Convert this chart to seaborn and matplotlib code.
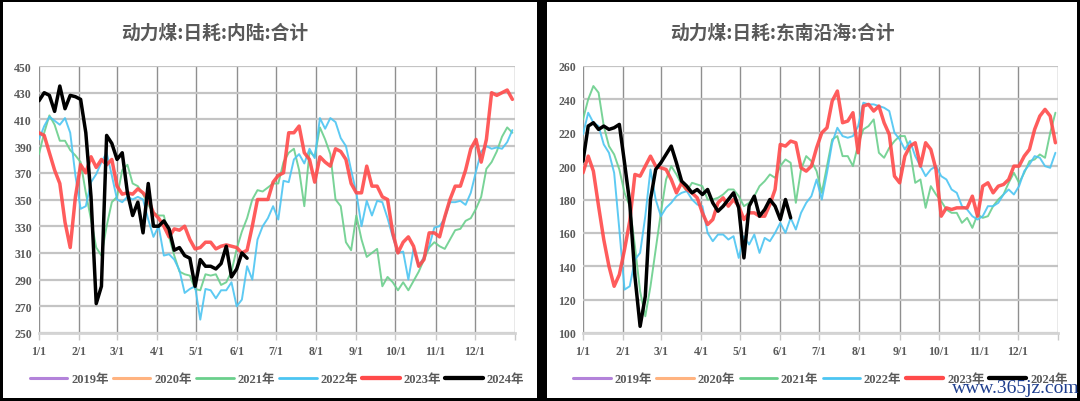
import numpy as np
import pandas as pd
import matplotlib
matplotlib.use("Agg")
import matplotlib.pyplot as plt
from matplotlib.lines import Line2D
from matplotlib.patches import Rectangle
import seaborn as sns

# ---------------- data (sampled every 4 days from 1/1) ----------------
STEP = 4
years = ["2019年", "2020年", "2021年", "2022年", "2023年", "2024年"]
month_labels = ["1/1", "2/1", "3/1", "4/1", "5/1", "6/1", "7/1", "8/1", "9/1", "10/1", "11/1", "12/1"]
month_starts = [0, 31, 60, 91, 121, 152, 182, 213, 244, 274, 305, 335]

inland_2021 = [384, 400, 413, 406, 394, 394, 387, 383, 378, 355,
               335, 314, 308, 330, 348, 352, 372, 376, 362, 360,
               354, 346, 340, 338, 338, 322, 308, 296, 294, 293,
               283, 282, 294, 293, 294, 286, 288, 296, 313, 326,
               336, 350, 357, 356, 359, 362, 362, 378, 385, 388,
               372, 345, 386, 382, 404, 395, 384, 350, 345, 318,
               312, 338, 320, 307, 310, 313, 285, 292, 288, 282,
               288, 282, 289, 296, 305, 314, 318, 315, 313, 320,
               327, 328, 334, 336, 343, 352, 373, 378, 386, 397,
               404, 400]
inland_2022 = [395, 405, 412, 409, 406, 411, 400, 368, 343, 345,
               363, 369, 378, 385, 368, 350, 348, 352, 350, 352,
               350, 335, 322, 330, 308, 309, 305, 297, 280, 283,
               285, 260, 283, 282, 276, 282, 282, 288, 270, 275,
               300, 290, 320, 330, 336, 345, 335, 364, 363, 380,
               384, 377, 388, 381, 411, 403, 411, 408, 396, 390,
               372, 355, 330, 349, 338, 349, 348, 336, 322, 310,
               311, 290, 313, 300, 307, 315, 329, 330, 336, 348,
               348, 349, 346, 355, 371, 386, 390, 388, 389, 388,
               393, 402]
inland_2023 = [400, 398, 385, 372, 362, 333, 314, 352, 376, 370,
               382, 374, 380, 376, 380, 360, 354, 355, 354, 358,
               355, 350, 340, 336, 330, 322, 328, 327, 330, 320,
               313, 314, 318, 318, 313, 315, 316, 315, 314, 310,
               312, 330, 350, 350, 350, 363, 368, 370, 400, 400,
               405, 385, 380, 363, 382, 378, 375, 388, 386, 380,
               362, 355, 355, 375, 360, 360, 352, 350, 325, 310,
               318, 322, 315, 300, 305, 325, 325, 322, 337, 350,
               360, 360, 372, 388, 395, 378, 395, 430, 428, 430,
               432, 425]
inland_2024 = [424, 430, 428, 416, 435, 418, 428, 427, 425, 400,
               352, 272, 285, 398, 392, 380, 385, 355, 338, 348,
               325, 362, 330, 330, 334, 328, 312, 314, 308, 306,
               285, 305, 300, 300, 298, 302, 315, 292, 298, 310,
               306]

coast_2021 = [228, 240, 248, 244, 224, 212, 207, 198, 184, 176,
              152, 125, 110, 128, 150, 172, 192, 200, 195, 189,
              185, 190, 189, 188, 180, 180, 181, 183, 186, 186,
              182, 176, 178, 182, 188, 191, 195, 193, 200, 204,
              202, 178, 198, 206, 203, 197, 184, 200, 216, 218,
              206, 206, 200, 213, 222, 224, 228, 208, 205, 211,
              215, 218, 218, 209, 190, 192, 175, 188, 183, 179,
              174, 172, 172, 166, 169, 163, 171, 169, 170, 176,
              180, 183, 190, 196, 190, 196, 203, 204, 207, 205,
              220, 232]
coast_2022 = [219, 232, 226, 224, 213, 208, 196, 162, 126, 128,
              144, 148, 170, 198, 180, 170, 175, 178, 182, 184,
              185, 180, 177, 176, 160, 155, 159, 159, 156, 158,
              145, 158, 153, 159, 148, 157, 155, 160, 166, 160,
              169, 162, 172, 178, 182, 192, 180, 196, 214, 223,
              218, 217, 218, 224, 238, 237, 237, 236, 235, 233,
              220, 216, 210, 215, 206, 200, 194, 198, 200, 194,
              192, 186, 184, 176, 174, 170, 168, 170, 176, 176,
              178, 183, 186, 183, 188, 197, 201, 206, 205, 200,
              199, 208]
coast_2023 = [196, 206, 197, 176, 156, 140, 128, 135, 150, 167,
              195, 194, 200, 206, 200, 199, 198, 192, 184, 190,
              186, 184, 181, 172, 165, 168, 178, 181, 176, 180,
              176, 168, 172, 172, 170, 170, 177, 186, 213, 212,
              215, 214, 199, 197, 200, 211, 220, 223, 239, 245,
              226, 227, 232, 208, 236, 237, 233, 236, 226, 219,
              194, 190, 206, 212, 214, 200, 214, 210, 198, 170,
              175, 174, 175, 175, 175, 182, 170, 188, 190, 184,
              188, 189, 192, 200, 200, 206, 210, 222, 230, 234,
              230, 214]
coast_2024 = [203, 224, 226, 222, 224, 222, 223, 225, 202, 178,
              134, 104, 122, 180, 198, 202, 207, 212, 202, 191,
              188, 184, 186, 183, 186, 178, 173, 176, 180, 184,
              175, 145, 176, 182, 170, 174, 180, 176, 168, 180,
              169]

panels = [
    {"title": "动力煤:日耗:内陆:合计", "ylim": (250, 450), "yticks": range(250, 451, 20),
     "series": {"2021年": inland_2021, "2022年": inland_2022, "2023年": inland_2023, "2024年": inland_2024}},
    {"title": "动力煤:日耗:东南沿海:合计", "ylim": (100, 260), "yticks": range(100, 261, 20),
     "series": {"2021年": coast_2021, "2022年": coast_2022, "2023年": coast_2023, "2024年": coast_2024}},
]

colors = {"2019年": "#B383DA", "2020年": "#FFB380", "2021年": "#6ACF8C",
          "2022年": "#4CC5F2", "2023年": "#FF4A4A", "2024年": "#000000"}
widths = {"2019年": 1.6, "2020年": 1.6, "2021年": 1.4, "2022年": 1.4, "2023年": 2.5, "2024年": 2.5}
alphas = {"2019年": 1, "2020年": 1, "2021年": 0.9, "2022年": 0.9, "2023年": 0.9, "2024年": 1}

# ---------------- style ----------------
sns.set_theme(style="white")
plt.rcParams["font.family"] = ["Liberation Serif", "Noto Sans CJK SC"]
plt.rcParams["font.weight"] = "bold"
TXT = "#595959"

W, H = 1080, 402
fig = plt.figure(figsize=(W / 100, H / 100), dpi=100, facecolor="black")

# white panels
for (x0, x1) in [(3, 537), (547, 1077)]:
    fig.add_artist(Rectangle((x0 / W, 3 / H), (x1 - x0) / W, (399 - 3) / H,
                             transform=fig.transFigure, facecolor="white",
                             edgecolor="none", zorder=-10))

axes_px = [(39, 515), (583, 1058)]
title_px = [215, 782]

for p, (ax0, ax1), tx in zip(panels, axes_px, title_px):
    ax = fig.add_axes([ax0 / W, (H - 334) / H, (ax1 - ax0) / W, (334 - 67) / H])
    ax.set_facecolor("none")
    for name, vals in p["series"].items():
        df = pd.DataFrame({"day": np.arange(len(vals)) * STEP, "value": vals})
        sns.lineplot(data=df, x="day", y="value", ax=ax, color=colors[name],
                     linewidth=widths[name], alpha=alphas[name], legend=False,
                     solid_joinstyle="round")
    ax.set_xlim(0, 366)
    ax.set_ylim(*p["ylim"])
    ax.set_xticks(month_starts + [366])
    ax.set_xticklabels(month_labels + [""])
    ax.set_yticks(list(p["yticks"]))
    ax.set_xlabel("")
    ax.set_ylabel("")
    ax.grid(axis="x", color="#8f8f8f", linewidth=1.0)
    ax.grid(axis="y", color="#c4c4c4", linewidth=1.6)
    ax.set_axisbelow(True)
    for s in ["top", "left", "right"]:
        ax.spines[s].set_visible(False)
    ax.spines["bottom"].set_color("#d4d4d4")
    ax.spines["bottom"].set_linewidth(2)
    ax.tick_params(axis="x", length=5, width=1, color="#c8c8c8", pad=4,
                   labelsize=8.5, labelcolor=TXT, bottom=True)
    ax.tick_params(axis="y", length=0, pad=5, labelsize=8.5, labelcolor=TXT)

    fig.text(tx / W, 1 - 33 / H, p["title"], ha="center", va="center",
             fontsize=13.5, color=TXT, fontweight="bold",
             family=["Noto Sans CJK SC", "DejaVu Sans"])

    handles = [Line2D([], [], color=colors[y], linewidth=widths[y] + 0.6) for y in years]
    ax.legend(handles, years, loc="center", bbox_to_anchor=(0.5, -0.172), ncol=6,
              frameon=False, fontsize=9, handlelength=3.0, handletextpad=0.3,
              columnspacing=0.35, labelcolor=TXT)

fig.text(1016 / W, 1 - 389 / H, "www.365jz.com", ha="center", va="center",
         fontsize=14, color="#1F3F8F", fontweight="normal",
         family=["Liberation Serif", "DejaVu Serif"])

fig.savefig("out.png", dpi=100, facecolor=fig.get_facecolor())
